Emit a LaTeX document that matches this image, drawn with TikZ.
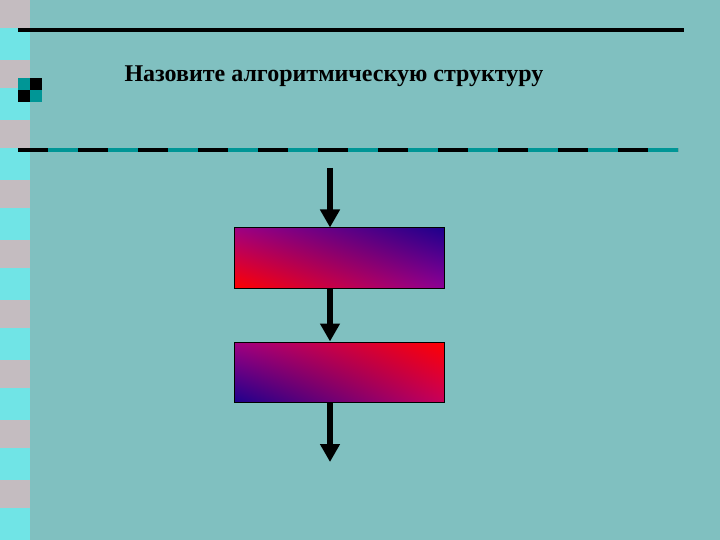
\documentclass[tikz,border=0pt]{standalone}
\usepackage{fontspec}
\setmainfont{Liberation Serif}
\usetikzlibrary{arrows.meta,shadings}
\definecolor{bgteal}{RGB}{128,192,192}
\definecolor{darkteal}{RGB}{0,150,150}
\definecolor{stripgray}{RGB}{196,188,192}
\definecolor{stripcyan}{RGB}{112,228,230}
\definecolor{navy}{RGB}{30,0,140}
\definecolor{purpA}{RGB}{160,0,130}
\definecolor{purpB}{RGB}{140,0,150}
\definecolor{magR}{RGB}{200,0,90}
\begin{document}
\begin{tikzpicture}[x=1pt,y=-1pt,
  flowbox/.style={rectangle,draw=black,line width=1pt,minimum width=210pt,minimum height=60pt,inner sep=0pt},
  flowarrow/.style={line width=5.5pt,-{Triangle[width=19pt,length=18pt]}},
  title/.style={font=\fontsize{24}{28}\selectfont\bfseries,inner sep=0pt}]
\useasboundingbox (0,0) rectangle (720,540);
\fill[bgteal] (0,0) rectangle (720,540);
% left strip
\fill[stripgray] (0,0) rectangle (30,540);
\foreach \k in {0,...,8} {
  \fill[stripcyan] (0,{28+60*\k}) rectangle (30,{60+60*\k});
}
% top rule
\draw[black,line width=4pt] (18,30) -- (684,30);
% icon
\fill[darkteal] (18,78) rectangle (30,90);
\fill[black] (30,78) rectangle (42,90);
\fill[black] (18,90) rectangle (30,102);
\fill[darkteal] (30,90) rectangle (42,102);
% title
\node[title,anchor=base] (t) at (334,82) {Назовите алгоритмическую структуру};
% dashed rule
\draw[darkteal,line width=4pt] (18,150) -- (678,150);
\draw[black,line width=4pt,dash pattern=on 30pt off 30pt] (18,150) -- (678,150);
% boxes
\node[flowbox,upper left=purpA,upper right=navy,lower left=red,lower right=purpB] (b1) at (339,258) {};
\node[flowbox,upper left=purpA,upper right=red,lower left=navy,lower right=magR] (b2) at (339,372) {};
\coordinate (s) at (330,168);
\coordinate (e) at (330,462);
\draw[flowarrow] (s) -- (s |- b1.north);
\draw[flowarrow] (s |- b1.south) -- (s |- b2.north);
\draw[flowarrow] (s |- b2.south) -- (e);
\end{tikzpicture}
\end{document}
